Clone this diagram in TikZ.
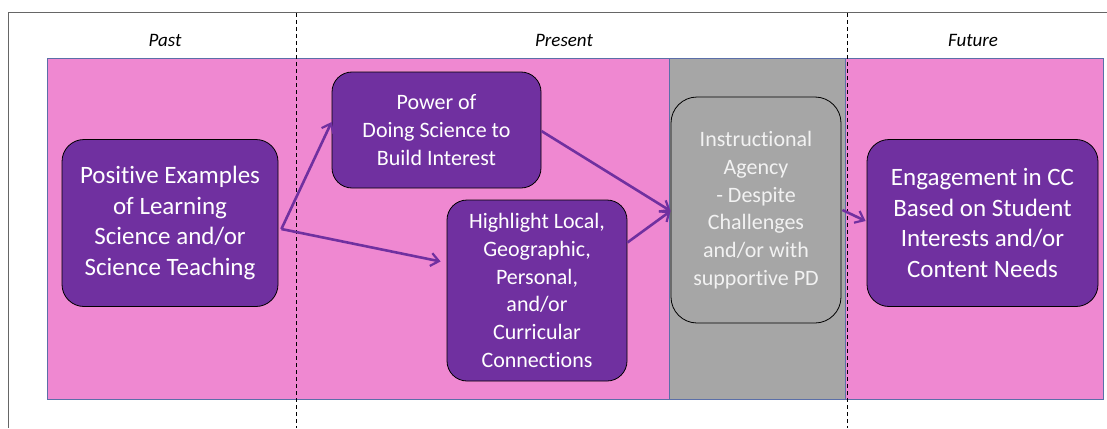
\documentclass[tikz,border=0pt]{standalone}
\usepackage{fontspec}
\setmainfont[Ligatures={NoCommon}]{Carlito}
\usetikzlibrary{arrows.meta,calc}
\definecolor{pinkbg}{HTML}{EF88D1}
\definecolor{graybg}{HTML}{A6A6A6}
\definecolor{purp}{HTML}{7030A0}
\definecolor{edgeblue}{HTML}{5B6FA8}
\definecolor{lighttext}{HTML}{F2F2F2}
\begin{document}
\begin{tikzpicture}[x=1pt,y=-1pt,
  bigbox/.style={draw=black,line width=0.8pt,fill=purp,rounded corners=22pt,text=white,align=center,inner sep=0pt,font=\fontsize{25}{30.7}\selectfont},
  smallbox/.style={draw=black,line width=0.8pt,fill=purp,rounded corners=20pt,text=white,align=center,inner sep=0pt,font=\fontsize{22}{27.7}\selectfont},
  graybox/.style={draw=black,line width=0.8pt,fill=graybg,rounded corners=26pt,text=lighttext,align=center,inner sep=0pt,font=\fontsize{22}{27.7}\selectfont},
  period/.style={font=\itshape\fontsize{19}{22}\selectfont,text=black},
  conn/.style={draw=purp,line width=2.6pt,-{Straight Barb[length=8pt,width=13pt,line width=2.2pt]}},
  sep/.style={draw=black,line width=0.8pt,dash pattern=on 4pt off 3pt}]
\useasboundingbox (0,0) rectangle (1107,428);
\fill[white] (0,0) rectangle (1107,428);
% frame
\draw[draw=black!60,line width=1pt] (8,428) -- (8,13) -- (1107,13);
% backgrounds
\draw[draw=edgeblue,fill=pinkbg,line width=1pt] (47,59) rectangle (1103,399);
\draw[draw=edgeblue,fill=graybg,line width=1pt] (669,59) rectangle (845,399);
% dashed separators
\draw[sep] (296,13) -- (296,428);
\draw[sep] (847,13) -- (847,428);
% period labels
\node[period] (past) at (165,40) {Past};
\node[period] (present) at (564,40) {Present};
\node[period] (future) at (973,40) {Future};
% boxes
\node[bigbox,minimum width=216pt,minimum height=167pt] (A) at (170,223)
  {Positive Examples\\of Learning\\Science and/or\\Science Teaching};
\node[smallbox,minimum width=209pt,minimum height=116pt] (B) at (436.5,130)
  {Power of\\Doing Science to\\Build Interest};
\node[smallbox,minimum width=180pt,minimum height=181pt] (C) at (537,290.5)
  {Highlight Local,\\Geographic,\\Personal,\\and/or\\Curricular\\Connections};
\node[graybox,minimum width=170pt,minimum height=226pt] (D) at (756,210)
  {Instructional\\Agency\\- Despite\\Challenges\\and/or with\\supportive PD};
\node[bigbox,minimum width=231pt,minimum height=167pt] (E) at (982.5,223)
  {Engagement in CC\\Based on Student\\Interests and/or\\Content Needs};
% connectors
\coordinate (as) at ($(A.east)+(3,6)$);
\coordinate (dt) at ($(D.west)+(0,1)$);
\draw[conn] (as) -- ($(B.west)+(0,-8)$);
\draw[conn] (as) -- ($(C.west)+(-6,-29)$);
\draw[conn] ($(B.east)+(0,1)$) -- (dt);
\draw[conn] ($(C.east)+(0,-48)$) -- (dt);
\draw[conn] ($(D.east)+(1,0)$) -- ($(E.west)+(-1,-2)$);
\end{tikzpicture}
\end{document}
